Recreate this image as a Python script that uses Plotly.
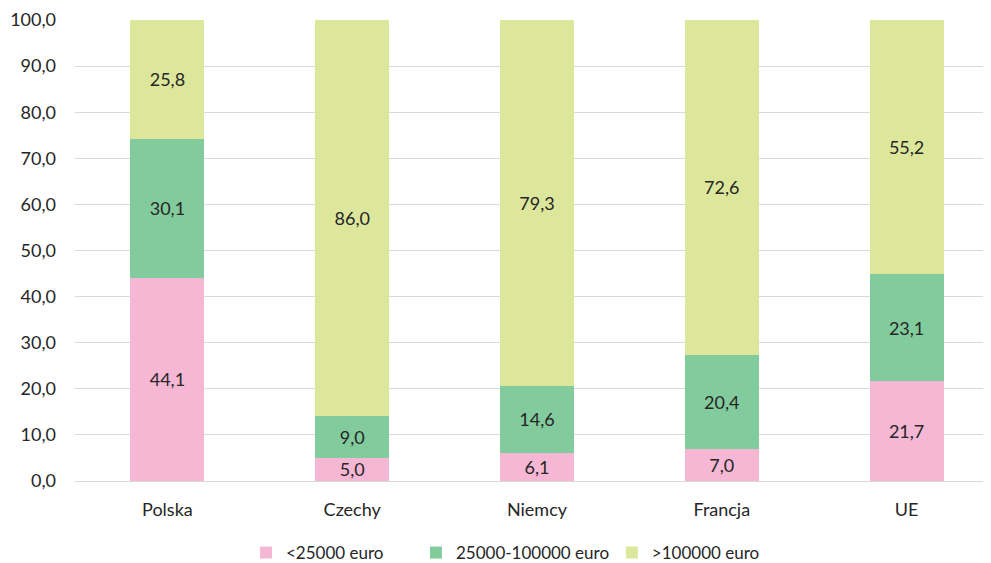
import plotly.graph_objects as go

countries = ["Polska", "Czechy", "Niemcy", "Francja", "UE"]
series_names = ["<25000 euro", "25000-100000 euro", ">100000 euro"]
small = [44.1, 5.0, 6.1, 7.0, 21.7]
medium = [30.1, 9.0, 14.6, 20.4, 23.1]
large = [25.8, 86.0, 79.3, 72.6, 55.2]
y_ticks = [0, 10, 20, 30, 40, 50, 60, 70, 80, 90, 100]

colors = ["#F5B7D3", "#82CB9C", "#DCE79B"]
legend_ids = ["legend", "legend2", "legend3"]
legend_x = [0.185, 0.369, 0.581]

fig = go.Figure()
for name, values, color, leg in zip(series_names, [small, medium, large], colors, legend_ids):
    fig.add_trace(
        go.Bar(
            x=countries,
            y=values,
            name=name,
            legend=leg,
            marker=dict(color=color, line=dict(width=0)),
            width=0.4,
            texttemplate="%{y:.1f}",
            textposition="inside",
            insidetextanchor="middle",
            textangle=0,
            constraintext="none",
            textfont=dict(color="#262626", size=18),
            hoverinfo="skip",
        )
    )

legend_style = dict(
    orientation="h",
    xanchor="left",
    yref="container",
    y=0.0,
    yanchor="bottom",
    font=dict(size=17),
    itemwidth=30,
    bgcolor="rgba(0,0,0,0)",
)

# the page body adds 8 px, so margins are trimmed by that much
fig.update_layout(
    barmode="stack",
    width=991,
    height=563,
    separators=", ",
    plot_bgcolor="white",
    paper_bgcolor="white",
    font=dict(family="Lato, Open Sans, sans-serif", size=18, color="#262626"),
    margin=dict(l=67, r=0, t=12, b=90, autoexpand=False),
    legend=dict(x=legend_x[0], **legend_style),
    legend2=dict(x=legend_x[1], **legend_style),
    legend3=dict(x=legend_x[2], **legend_style),
    showlegend=True,
)
fig.update_xaxes(
    range=[-0.5, 4.5], showgrid=False, ticks="", showline=False,
    automargin=False, ticklabelstandoff=16,
)
fig.update_yaxes(
    range=[0, 100],
    tickvals=y_ticks,
    tickformat=".1f",
    showgrid=True,
    gridcolor="#D9D9D9",
    gridwidth=1,
    zeroline=True,
    zerolinecolor="#D9D9D9",
    zerolinewidth=1,
    ticks="",
    automargin=False,
    ticklabelstandoff=18,
)

fig.write_html("out.html")
